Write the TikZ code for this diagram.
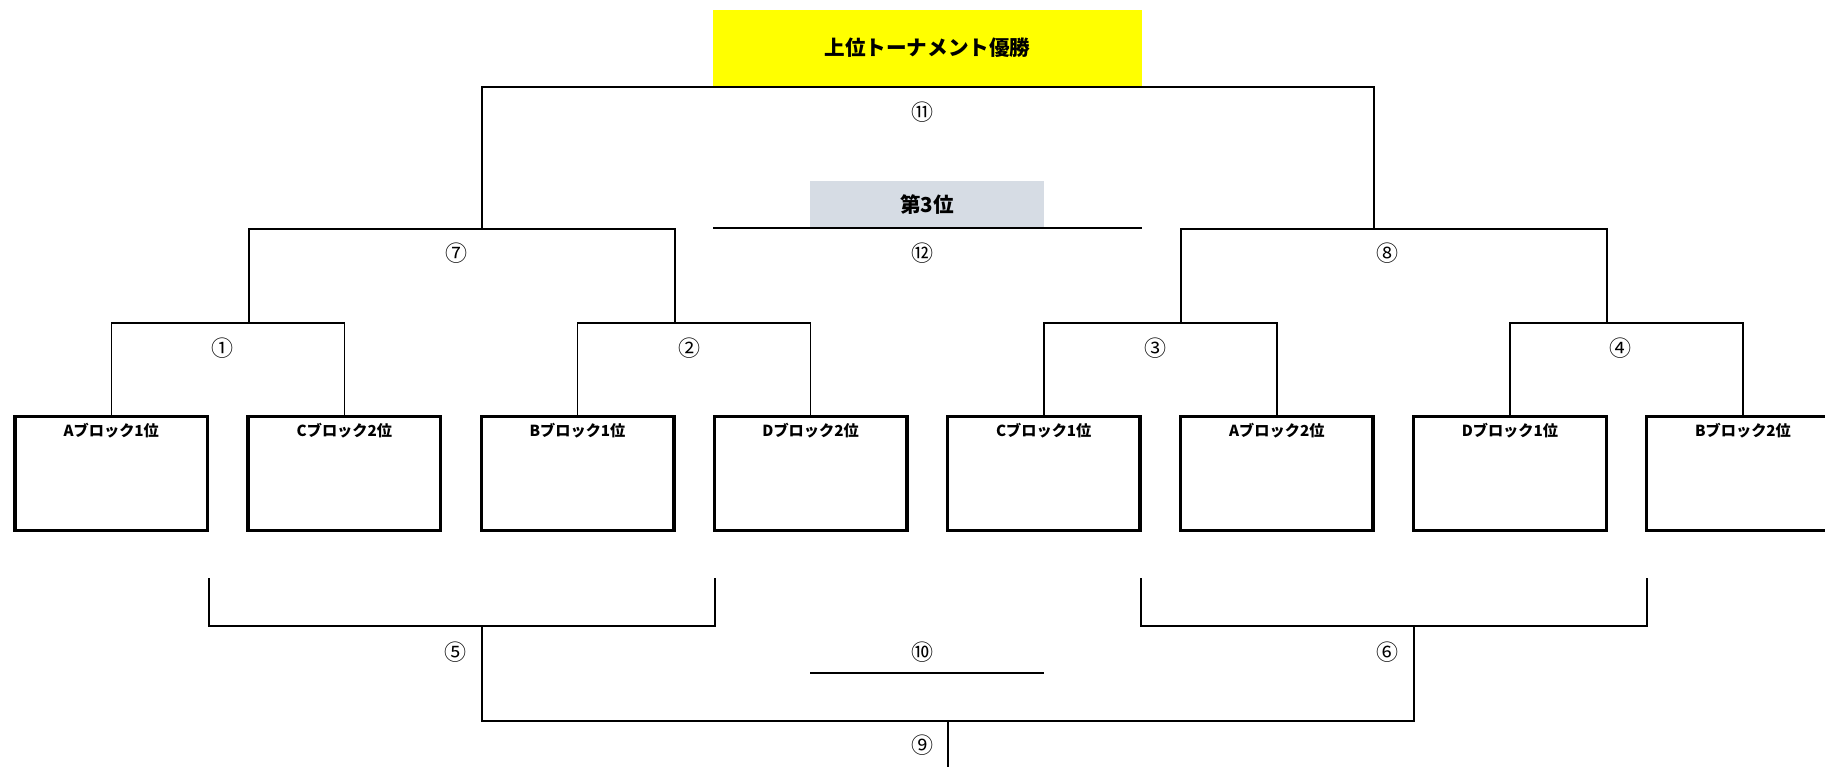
\documentclass[tikz,border=0pt]{standalone}
\usepackage{fontspec}
\setmainfont{Noto Sans CJK JP}
\definecolor{grayblue}{RGB}{214,220,228}
\definecolor{brightyellow}{RGB}{255,255,0}
\begin{document}
\begin{tikzpicture}[x=0.5pt,y=-0.5pt,
  conn/.style={line width=0.8pt},
  blk/.style={draw, line width=1.7pt, minimum width=96.3pt, minimum height=56.8pt, inner sep=0pt},
  blktxt/.style={font=\bfseries\fontsize{7.6pt}{9pt}\selectfont, inner sep=0pt},
  num/.style={font=\fontsize{11pt}{13pt}\selectfont, inner sep=0pt},
  titlebox/.style={fill=brightyellow, minimum width=214.5pt, minimum height=38pt, inner sep=0pt, font=\bfseries\fontsize{10.3pt}{12pt}\selectfont},
  thirdbox/.style={fill=grayblue, minimum width=117pt, minimum height=24pt, inner sep=0pt, font=\bfseries\fontsize{10.3pt}{12pt}\selectfont}]
\useasboundingbox (0,0) rectangle (1825,766);

% title boxes
\node[titlebox] (win) at (927.5,48) {上位トーナメント優勝};
\node[thirdbox] (third) at (927,205) {第3位};

% team boxes
\foreach \i/\t in {0/Aブロック1位,1/Cブロック2位,2/Bブロック1位,3/Dブロック2位,4/Cブロック1位,5/Aブロック2位,6/Dブロック1位,7/Bブロック2位}{
  \node[blk] (b\i) at ({111.3+233.1*\i},473.5) {};
  \node[blktxt] (t\i) at ([yshift=-7.8pt]b\i.north) {\t};
}

% level coordinates
\coordinate (L1) at (0,323);
\coordinate (L2) at (0,229);
\coordinate (L3) at (0,86.7);

% first round
\draw[conn] (b0.north) -- (b0.north |- L1) -- (b1.north |- L1) -- (b1.north);
\draw[conn] (b2.north) -- (b2.north |- L1) -- (b3.north |- L1) -- (b3.north);
\draw[conn] (b4.north) -- (b4.north |- L1) -- (b5.north |- L1) -- (b5.north);
\draw[conn] (b6.north) -- (b6.north |- L1) -- (b7.north |- L1) -- (b7.north);

% semifinals
\coordinate (j7a) at (249,323);
\coordinate (j7b) at (675,323);
\coordinate (j8a) at (1181,323);
\coordinate (j8b) at (1607,323);
\draw[conn] (j7a) -- (j7a |- L2) -- (j7b |- L2) -- (j7b);
\draw[conn] (j8a) -- (j8a |- L2) -- (j8b |- L2) -- (j8b);

% final
\coordinate (j11a) at (482,229);
\coordinate (j11b) at (1374,229);
\draw[conn] (j11a) -- (j11a |- L3) -- (j11b |- L3) -- (j11b);

% third place line
\coordinate (c12a) at (713,228);
\coordinate (c12b) at (1142,228);
\draw[conn] (c12a) -- (c12b);

% lower bracket
\coordinate (M1) at (0,626);
\coordinate (M2) at (0,721);
\coordinate (l5a) at (209,578);
\coordinate (l5b) at (715,578);
\coordinate (l6a) at (1141,578);
\coordinate (l6b) at (1647,578);
\draw[conn] (l5a) -- (l5a |- M1) -- (l5b |- M1) -- (l5b);
\draw[conn] (l6a) -- (l6a |- M1) -- (l6b |- M1) -- (l6b);
\coordinate (d5) at (482,626);
\coordinate (d6) at (1414,626);
\draw[conn] (d5) -- (d5 |- M2) -- (d6 |- M2) -- (d6);
\coordinate (d9a) at (948,721);
\coordinate (d9b) at (948,770);
\draw[conn] (d9a) -- (d9b);
\coordinate (c10a) at (810,673);
\coordinate (c10b) at (1044,673);
\draw[conn] (c10a) -- (c10b);

% match numbers
\node[num] (n1) at (222,348) {①};
\node[num] (n2) at (689,348) {②};
\node[num] (n3) at (1155,348) {③};
\node[num] (n4) at (1620,348) {④};
\node[num] (n7) at (456,253) {⑦};
\node[num] (n12) at (922,253) {⑫};
\node[num] (n8) at (1387,253) {⑧};
\node[num] (n11) at (922,112) {⑪};
\node[num] (n5) at (455,652) {⑤};
\node[num] (n10) at (922,652) {⑩};
\node[num] (n6) at (1387,652) {⑥};
\node[num] (n9) at (922,745) {⑨};
\end{tikzpicture}
\end{document}
